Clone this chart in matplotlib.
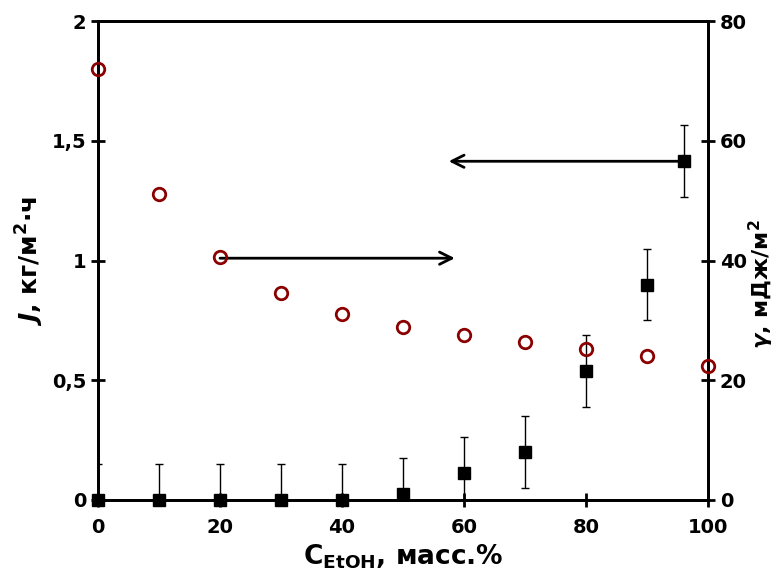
import numpy as np
import matplotlib
matplotlib.use("Agg")
import matplotlib.pyplot as plt

# ethanol content, wt.%
c_flux = [0, 10, 20, 30, 40, 50, 60, 70, 80, 90, 96]
flux = [0, 0, 0, 0, 0, 0.025, 0.113, 0.20, 0.54, 0.90, 1.415]
flux_err = [0.15, 0.15, 0.15, 0.15, 0.15, 0.15, 0.15, 0.15, 0.15, 0.15, 0.15]

c_gamma = [0, 10, 20, 30, 40, 50, 60, 70, 80, 90, 100]
gamma = [72.1, 51.1, 40.6, 34.6, 31.1, 28.9, 27.6, 26.4, 25.2, 24.1, 22.4]

plt.rcParams['font.family'] = 'DejaVu Sans'
plt.rcParams['font.weight'] = 'bold'
plt.rcParams['mathtext.fontset'] = 'custom'
plt.rcParams['mathtext.it'] = 'DejaVu Sans:italic:bold'
plt.rcParams['mathtext.rm'] = 'DejaVu Sans:bold'

fig = plt.figure(figsize=(7.81, 5.74), dpi=100)
ax = fig.add_axes([0.1255, 0.129, 0.781, 0.834])
ax2 = ax.twinx()

# error bars clipped at the axes, markers drawn unclipped
ax.errorbar(c_flux, flux, yerr=flux_err, fmt='none', ecolor='black',
            elinewidth=1, capsize=3, capthick=1, zorder=3)
ax.plot(c_flux, flux, 's', color='black', ms=8.5, clip_on=False, zorder=5)
ax2.plot(c_gamma, gamma, 'o', mfc='none', mec='#8b0000', mew=2, ms=9,
         clip_on=False, zorder=4)

# arrows pointing to the relevant axis
arr = dict(arrowstyle='->', color='black', lw=2, mutation_scale=22,
           shrinkA=0, shrinkB=0)
ax.annotate('', xy=(58.5, 1.01), xytext=(20, 1.01), arrowprops=arr)
ax.annotate('', xy=(57.5, 1.415), xytext=(96, 1.415), arrowprops=arr)

ax.set_xlim(0, 100)
ax.set_ylim(0, 2)
ax2.set_ylim(0, 80)
ax.set_xticks([0, 20, 40, 60, 80, 100])
ax.set_yticks([0, 0.5, 1, 1.5, 2])
ax.set_yticklabels(['0', '0,5', '1', '1,5', '2'])
ax2.set_yticks([0, 20, 40, 60, 80])

for a in (ax, ax2):
    for s in a.spines.values():
        s.set_linewidth(2)
    a.tick_params(direction='inout', length=10, width=2, labelsize=14)
ax.tick_params(axis='x', pad=8)

ax.set_xlabel(r'C$_{\mathrm{EtOH}}$, масс.%', fontsize=19, fontweight='bold',
              labelpad=4)
ax.set_ylabel(r'$J$, кг/м$^{2}$·ч', fontsize=18, fontweight='bold')
ax2.set_ylabel(r'$\gamma$, мДж/м$^{2}$', fontsize=16, fontweight='bold')
ax2.yaxis.set_label_coords(1.064, 0.45)

fig.savefig('out.png', dpi=100)
